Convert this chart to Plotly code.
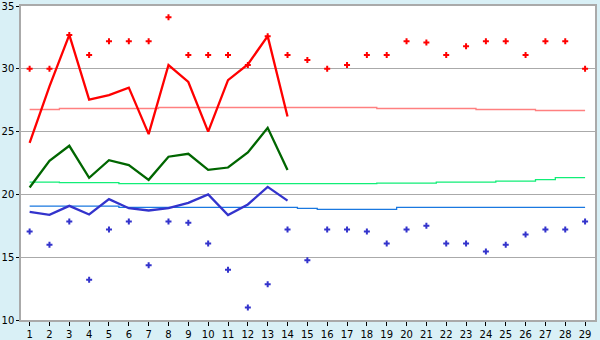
import plotly.graph_objects as go

days = list(range(1, 30))
days_obs = list(range(1, 15))

max_dots = [30.0, 30.0, 32.7, 31.1, 32.2, 32.2, 32.2, 34.1, 31.1, 31.1,
            31.1, 30.3, 32.6, 31.1, 30.7, 30.0, 30.3, 31.1, 31.1, 32.2,
            32.1, 31.1, 31.8, 32.2, 32.2, 31.1, 32.2, 32.2, 30.0]
min_dots = [17.05, 16.0, 17.85, 13.2, 17.2, 17.85, 14.35, 17.85, 17.75, 16.1,
            14.0, 11.0, 12.85, 17.2, 14.75, 17.2, 17.2, 17.05, 16.1, 17.2,
            17.5, 16.1, 16.1, 15.45, 16.0, 16.8, 17.2, 17.2, 17.85]

max_line = [24.1, 28.6, 32.7, 27.55, 27.9, 28.5, 24.8, 30.3, 28.95, 25.0,
            29.1, 30.35, 32.6, 26.2]
mean_line = [20.55, 22.67, 23.87, 21.32, 22.72, 22.33, 21.16, 23.0, 23.23, 21.95,
             22.14, 23.34, 25.3, 21.95]
min_line = [18.6, 18.37, 19.09, 18.4, 19.62, 18.9, 18.72, 18.9, 19.33, 20.0,
            18.35, 19.2, 20.6, 19.5]

max_normal = [26.76, 26.76, 26.84, 26.84, 26.84, 26.84, 26.84, 26.92, 26.92, 26.92,
              26.92, 26.92, 26.92, 26.92, 26.92, 26.92, 26.92, 26.92, 26.84, 26.84,
              26.84, 26.84, 26.84, 26.76, 26.76, 26.76, 26.68, 26.68, 26.68]
mean_normal = [20.98, 20.98, 20.93, 20.93, 20.93, 20.85, 20.85, 20.85, 20.85, 20.85,
               20.85, 20.85, 20.85, 20.85, 20.85, 20.85, 20.85, 20.85, 20.9, 20.9,
               20.9, 20.98, 20.98, 20.98, 21.06, 21.06, 21.17, 21.33, 21.33]
min_normal = [19.07, 19.07, 19.07, 19.07, 19.07, 18.97, 18.97, 18.97, 18.97, 18.97,
              18.97, 18.97, 18.97, 18.97, 18.88, 18.8, 18.8, 18.8, 18.8, 18.96,
              18.96, 18.96, 18.96, 18.96, 18.96, 18.96, 18.96, 18.96, 18.96]

y_ticks = [10, 15, 20, 25, 30, 35]

fig = go.Figure()

fig.add_trace(go.Scatter(x=days, y=max_normal, mode="lines", line=dict(color="#ff8080", width=1.3, shape="hvh")))
fig.add_trace(go.Scatter(x=days, y=mean_normal, mode="lines", line=dict(color="#11ee77", width=1.3, shape="hvh")))
fig.add_trace(go.Scatter(x=days, y=min_normal, mode="lines", line=dict(color="#1a78e0", width=1.3, shape="hvh")))

fig.add_trace(go.Scatter(x=days_obs, y=max_line, mode="lines", line=dict(color="#ff0000", width=2.3)))
fig.add_trace(go.Scatter(x=days_obs, y=mean_line, mode="lines", line=dict(color="#006600", width=2.3)))
fig.add_trace(go.Scatter(x=days_obs, y=min_line, mode="lines", line=dict(color="#3333cc", width=2.3)))

fig.add_trace(go.Scatter(x=days, y=max_dots, mode="markers",
                         marker=dict(symbol="cross", size=5, color="#ff0000", line=dict(width=0))))
fig.add_trace(go.Scatter(x=days, y=min_dots, mode="markers",
                         marker=dict(symbol="cross", size=5, color="#3333cc", line=dict(width=0))))

fig.update_layout(
    width=600, height=340,
    margin=dict(l=21, r=5, t=6, b=20, pad=0),
    paper_bgcolor="#d9f0f6",
    plot_bgcolor="#ffffff",
    showlegend=False,
    font=dict(family="DejaVu Sans", size=10, color="#000000"),
)
fig.update_xaxes(
    range=[0.565, 29.5], tickmode="array", tickvals=days, ticktext=[str(d) for d in days],
    showgrid=False, zeroline=False, showline=True, linecolor="#aaaaaa", linewidth=1.5, mirror=True,
    ticks="outside", ticklen=4, tickcolor="#000000", tickwidth=1, automargin=False,
)
fig.update_yaxes(
    range=[10, 35], tickmode="array", tickvals=y_ticks, ticktext=[str(v) for v in y_ticks],
    showgrid=True, gridcolor="#aaaaaa", gridwidth=1, zeroline=False,
    showline=True, linecolor="#aaaaaa", linewidth=1.5, mirror=True,
    ticks="outside", ticklen=3, tickcolor="#000000", tickwidth=1, automargin=False,
)

fig.write_html("out.html")
